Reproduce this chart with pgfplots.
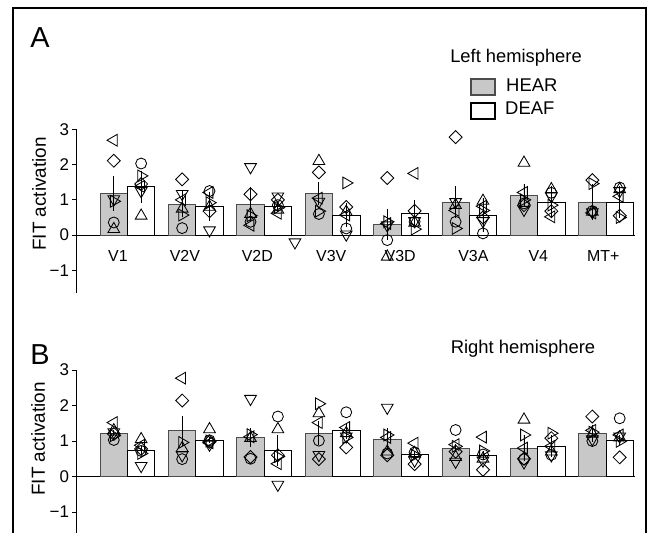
\documentclass[border=0pt]{standalone}
\usepackage{pgfplots}
\pgfplotsset{compat=1.18}
\usepackage{fontspec}
\setmainfont{Liberation Sans}
\definecolor{barG}{RGB}{200,200,200}
\pgfplotsset{
  panel/.style={
    scale only axis, width=559bp,
    xmin=-0.753, xmax=7.424,
    ytick={-1,0,1,2,3}, yticklabels={−1,0,1,2,3},
    axis y line*=left, axis x line*=middle,
    axis line style={black, line width=0.9bp},
    xtick style={draw=none},
    ytick style={black, line width=0.9bp},
    tick align=outside, major tick length=3.5bp,
    yticklabel style={font=\fontsize{17}{19}\selectfont},
    xticklabel style={font=\fontsize{16}{19}\selectfont, anchor=center, yshift=-17bp},
    clip=false,
  },
  hb/.style={ybar, bar width=0.4, bar shift=0pt, fill=barG, draw=black!70, line width=0.8bp,
    error bars/y dir=both, error bars/y explicit, error bars/error mark=none,
    error bars/error bar style={black, line width=0.9bp, solid}},
  db/.style={ybar, bar width=0.4, bar shift=0pt, fill=white, draw=black, line width=0.8bp,
    error bars/y dir=both, error bars/y explicit, error bars/error mark=none,
    error bars/error bar style={black, line width=0.9bp, solid}},
  mo/.style={only marks, black, mark=o, mark size=5.5pt, mark options={draw=black, fill=none, line width=0.85bp}},
  mu/.style={only marks, black, mark=triangle, mark size=6.8pt, mark options={draw=black, fill=none, line width=0.85bp}},
  md/.style={only marks, black, mark=triangle, mark size=6.8pt, mark options={draw=black, fill=none, line width=0.85bp, rotate=180}},
  ml/.style={only marks, black, mark=triangle, mark size=6.8pt, mark options={draw=black, fill=none, line width=0.85bp, rotate=90}},
  mr/.style={only marks, black, mark=triangle, mark size=6.8pt, mark options={draw=black, fill=none, line width=0.85bp, rotate=-90}},
  mi/.style={only marks, black, mark=square, mark size=4.6pt, mark options={draw=black, fill=none, line width=0.85bp, rotate=45}},
}
\begin{document}
\begin{tikzpicture}[x=1bp,y=1bp]
\useasboundingbox (0bp,0bp) rectangle (649bp,533bp);
% ---------------- Panel A ----------------
\begin{axis}[panel, at={(76bp,239.6bp)}, anchor=south west, height=164.1bp,
  ymin=-1.65, ymax=3,
  xtick={-0.14,0.84,1.9,2.98,3.99,5.06,6.01,6.96},
  xticklabels={V1,V2V,V2D,V3V,V3D,V3A,V4,MT+}]
\addplot[hb] table[x=x,y=y,y error=e] {
x y e
-0.2 1.18 0.49
0.8 0.88 0.37
1.8 0.88 0.49
2.8 1.18 0.33
3.8 0.31 0.44
4.8 0.94 0.46
5.8 1.13 0.31
6.8 0.94 0.50
};
\addplot[db] table[x=x,y=y,y error=e] {
x y e
0.2 1.37 0.45
1.2 0.82 0.41
2.2 0.82 0.15
3.2 0.57 0.35
4.2 0.63 0.36
5.2 0.57 0.47
6.2 0.94 0.46
7.2 0.94 0.45
};
\addplot[mo] coordinates {(-0.2,0.36)(0.8,0.2)(1.8,0.38)(2.8,0.6)(3.8,-0.14)(4.8,0.38)(5.8,0.9)(6.8,0.68)
 (0.2,2.03)(1.2,1.25)(2.2,0.85)(3.2,0.19)(4.2,0.38)(5.2,0.05)(6.2,1.2)(7.2,1.35)};
\addplot[mu] coordinates {(-0.2,0.17)(0.8,0.75)(1.8,0.6)(2.8,2.1)(3.8,-0.61)(4.8,0.85)(5.8,2.05)(6.8,0.66)
 (0.2,0.55)(1.2,0.8)(2.2,0.72)(3.2,0.66)(4.2,0.35)(5.2,0.97)(6.2,1.3)(7.2,1.3)};
\addplot[md] coordinates {(-0.2,1.02)(0.8,1.17)(1.8,1.93)(2.8,0.95)(3.8,0.28)(4.8,0.94)(5.8,0.72)(6.8,0.65)
 (0.2,1.25)(1.2,0.14)(2.2,1.1)(2.45,-0.2)(3.2,0.02)(4.2,0.4)(5.2,0.4)(6.2,1.1)(7.2,1.25)};
\addplot[ml] coordinates {(-0.2,2.69)(0.8,1.0)(1.8,0.28)(2.8,1.05)(3.8,0.33)(4.8,0.7)(5.8,1.21)(6.8,0.63)
 (0.2,1.38)(1.2,1.21)(2.2,0.62)(3.2,0.57)(4.2,1.75)(5.2,0.82)(6.2,0.52)(7.2,1.1)};
\addplot[mr] coordinates {(-0.2,0.96)(0.8,0.57)(1.8,0.55)(2.8,0.68)(3.8,0.38)(4.8,0.19)(5.8,1.0)(6.8,1.46)
 (0.2,1.68)(1.2,0.92)(2.2,0.78)(3.2,1.48)(4.2,0.17)(5.2,0.7)(6.2,0.85)(7.2,0.5)};
\addplot[mi] coordinates {(-0.2,2.11)(0.8,1.58)(1.8,1.16)(2.8,1.78)(3.8,1.62)(4.8,2.78)(5.8,0.85)(6.8,1.56)
 (0.2,1.45)(1.2,0.68)(2.2,1.0)(3.2,0.8)(4.2,0.69)(5.2,0.5)(6.2,0.68)(7.2,0.55)};
\end{axis}
% ---------------- Panel B ----------------
\begin{axis}[panel, at={(76bp,163bp)}, anchor=north west, height=166.9bp,
  ymin=-1.7, ymax=3,
  xtick={0,1,2,3,4,5,6,7}, xticklabels={}]
\addplot[hb] table[x=x,y=y,y error=e] {
x y e
-0.2 1.22 0.08
0.8 1.29 0.42
1.8 1.10 0.26
2.8 1.22 0.33
3.8 1.05 0.31
4.8 0.80 0.12
5.8 0.80 0.37
6.8 1.22 0.24
};
\addplot[db] table[x=x,y=y,y error=e] {
x y e
0.2 0.73 0.12
1.2 1.03 0.08
2.2 0.73 0.44
3.2 1.29 0.22
4.2 0.61 0.12
5.2 0.59 0.12
6.2 0.86 0.30
7.2 1.03 0.15
};
\addplot[mo] coordinates {(-0.2,1.03)(0.8,0.49)(1.8,0.5)(2.8,1.01)(3.8,0.65)(4.8,1.31)(5.8,0.49)(6.8,1.0)
 (0.2,0.72)(1.2,1.02)(2.2,1.69)(3.2,1.81)(4.2,0.68)(5.2,0.62)(6.2,0.61)(7.2,1.64)};
\addplot[mu] coordinates {(-0.2,1.3)(0.8,0.8)(1.8,1.08)(2.8,1.78)(3.8,0.7)(4.8,0.55)(5.8,1.6)(6.8,1.2)
 (0.2,1.05)(1.2,1.33)(2.2,1.33)(3.2,1.22)(4.2,0.66)(5.2,0.5)(6.2,0.7)(7.2,1.1)};
\addplot[md] coordinates {(-0.2,1.25)(0.8,0.6)(1.8,2.19)(2.8,0.61)(3.8,1.94)(4.8,0.42)(5.8,0.4)(6.8,1.05)
 (0.2,0.3)(1.2,0.9)(2.2,-0.23)(3.2,1.13)(4.2,0.45)(5.2,0.45)(6.2,0.6)(7.2,1.13)};
\addplot[ml] coordinates {(-0.2,1.52)(0.8,2.77)(1.8,1.12)(2.8,1.52)(3.8,1.1)(4.8,0.9)(5.8,0.8)(6.8,1.3)
 (0.2,0.88)(1.2,0.95)(2.2,0.36)(3.2,1.38)(4.2,0.94)(5.2,1.11)(6.2,0.85)(7.2,1.17)};
\addplot[mr] coordinates {(-0.2,1.15)(0.8,0.96)(1.8,1.18)(2.8,2.05)(3.8,1.17)(4.8,0.85)(5.8,1.17)(6.8,1.25)
 (0.2,0.65)(1.2,1.0)(2.2,0.56)(3.2,1.1)(4.2,0.6)(5.2,0.72)(6.2,1.22)(7.2,0.99)};
\addplot[mi] coordinates {(-0.2,1.2)(0.8,2.14)(1.8,0.55)(2.8,0.49)(3.8,0.6)(4.8,0.7)(5.8,0.5)(6.8,1.69)
 (0.2,0.78)(1.2,0.98)(2.2,0.6)(3.2,0.82)(4.2,0.35)(5.2,0.19)(6.2,1.08)(7.2,0.54)};
\end{axis}
% ---------------- frame and texts ----------------
\draw[line width=1.4bp] (13bp,-5bp) -- (13bp,525bp) -- (646bp,525bp) -- (646bp,-5bp);
\node[font=\fontsize{29}{32}\selectfont] at (40bp,495bp) {A};
\node[font=\fontsize{29}{32}\selectfont] at (40bp,178bp) {B};
\node[rotate=90, font=\fontsize{19}{22}\selectfont] at (39bp,339bp) {FIT activation};
\node[rotate=90, font=\fontsize{19}{22}\selectfont] at (38bp,94bp) {FIT activation};
\node[font=\fontsize{18.4}{22}\selectfont] at (516bp,475bp) {Left hemisphere};
\draw[fill=barG, draw=black!70, line width=1.2bp] (471bp,438bp) rectangle (495bp,454bp);
\node[anchor=west, inner sep=0pt, font=\fontsize{18.5}{22}\selectfont] at (506bp,448bp) {HEAR};
\draw[fill=white, draw=black, line width=1.2bp] (471bp,414bp) rectangle (495bp,430bp);
\node[anchor=west, inner sep=0pt, font=\fontsize{18.5}{22}\selectfont] at (505bp,425bp) {DEAF};
\node[font=\fontsize{18.5}{22}\selectfont] at (523bp,184bp) {Right hemisphere};
\end{tikzpicture}
\end{document}
